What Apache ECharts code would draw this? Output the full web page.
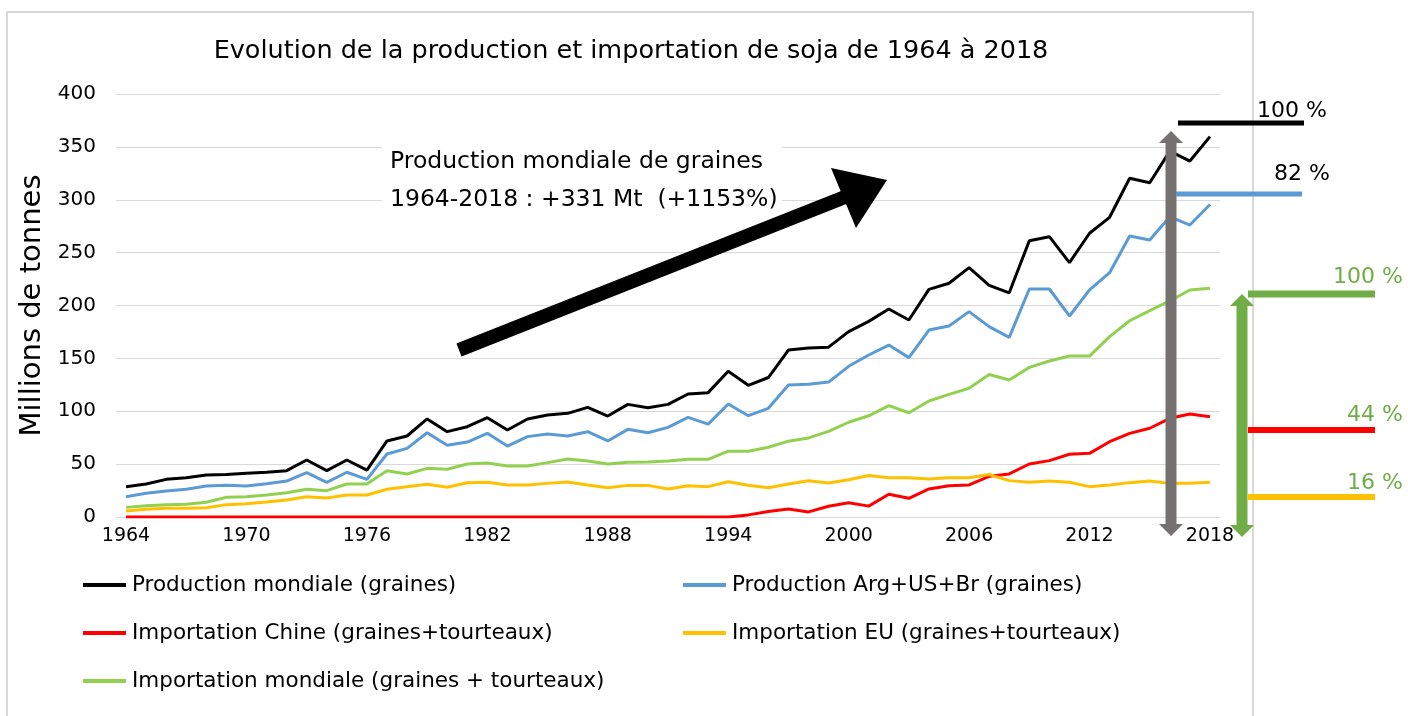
<!DOCTYPE html>
<html>
<head>
<meta charset="utf-8">
<script src="https://cdn.jsdelivr.net/npm/echarts@6/dist/echarts.min.js"></script>
<style>
  html, body { margin: 0; padding: 0; background: #fff; }
  #chart { width: 1408px; height: 716px; }
</style>
</head>
<body>
<div id="chart"></div>
<script>
// years 1964 -> 2018
const years = []
for (let y = 1964; y <= 2018; y++) years.push(String(y))

const prodMondiale = [28.7, 31.2, 35.6, 37.2, 39.7, 40.3, 41.3, 42.3, 43.8, 53.9, 43.8, 53.9, 44.4, 71.9, 76.6,
  92.7, 80.7, 85.4, 93.9, 82.3, 92.7, 96.5, 98, 103.7, 95.5, 106.5, 103.4, 106.5, 116.3, 117.6,
  137.8, 124.5, 131.9, 157.9, 159.8, 160.6, 175.3, 185, 196.7, 186.3, 215.3, 221, 235.8, 219, 212,
  261.3, 265.1, 240.5, 268.3, 283.4, 320.3, 316.1, 346, 336.6, 359.7]

const prodArgUsBr = [19.2, 22.4, 24.6, 26.2, 29.3, 30, 29.3, 31.5, 34, 41.9, 32.8, 42.3, 35.6, 59.6, 64.9,
  79.7, 67.8, 70.9, 79.1, 67.1, 76, 78.5, 76.6, 80.7, 71.9, 82.9, 79.7, 84.8, 94.2, 87.8,
  106.9, 95.8, 102.8, 124.8, 125.6, 127.6, 142.5, 153.2, 162.6, 150.7, 176.8, 180.6, 194.2, 180, 169.9,
  215.6, 215.6, 190.1, 214.7, 231, 265.7, 261.9, 284, 276.1, 295.5]

const importChine = [0, 0, 0, 0, 0, 0, 0, 0, 0, 0, 0, 0, 0, 0, 0,
  0, 0, 0, 0, 0, 0, 0, 0, 0, 0, 0, 0, 0, 0, 0,
  0, 2, 5.2, 7.5, 4.8, 10.2, 13.5, 10.3, 21.5, 17.7, 26.5, 29.6, 30.3, 38.5, 40.7,
  50.1, 53.3, 59.3, 60.2, 71.2, 79.1, 83.9, 93.3, 97.4, 94.9]

const importEU = [5.7, 7.3, 8.2, 8.2, 8.8, 11.7, 12.6, 14.2, 16.1, 19.2, 18, 20.8, 20.8, 26.2, 28.7,
  30.9, 28.1, 32.4, 32.8, 30.3, 30.3, 31.8, 33.1, 30.3, 27.7, 29.9, 29.9, 26.5, 29.6, 28.7,
  33.4, 30, 27.7, 31.2, 34.2, 32.2, 35.3, 39.2, 37.2, 37.2, 35.9, 37.2, 37.2, 40.2, 34.4,
  32.8, 34, 32.8, 28.7, 30.3, 32.5, 34, 31.8, 31.8, 32.8]

const importMondiale = [9.1, 10.7, 11.7, 12, 13.9, 18.6, 19.2, 20.8, 23, 26.2, 24.9, 31.2, 31.2, 43.8, 40.7,
  46, 45.1, 50.1, 51, 48.2, 48.2, 51.4, 54.8, 53, 50.1, 51.7, 52, 53, 54.5, 54.5,
  62.2, 62.2, 66, 71.7, 74.8, 81, 89.6, 95.7, 105.3, 98.6, 109.7, 116, 121.7, 134.7, 129.6,
  141.5, 147.5, 152.2, 152.2, 170.5, 185.6, 195.1, 204.3, 214.7, 216.2]

const FONT = 'DejaVu Sans'
const GREEN = '#70AD47'

function line(name, data, color) {
  return {
    name: name,
    type: 'line',
    data: data,
    symbol: 'none',
    lineStyle: { width: 3, color: color },
    itemStyle: { color: color },
    animation: false
  }
}

function hline(x1, x2, y, w, color) {
  return { type: 'line', z: 10, shape: { x1: x1, y1: y, x2: x2, y2: y }, style: { stroke: color, lineWidth: w } }
}

function doubleArrow(x, top, bottom, color) {
  return [
    { type: 'line', z: 10, shape: { x1: x, y1: top + 10, x2: x, y2: bottom - 10 }, style: { stroke: color, lineWidth: 11 } },
    { type: 'polygon', z: 10, shape: { points: [[x, top], [x - 12, top + 12], [x + 12, top + 12]] }, style: { fill: color } },
    { type: 'polygon', z: 10, shape: { points: [[x, bottom], [x - 12, bottom - 12], [x + 12, bottom - 12]] }, style: { fill: color } }
  ]
}

function label(text, x, y, color) {
  return {
    type: 'text', z: 10, x: x, y: y,
    style: { text: text, fill: color, font: '22px "' + FONT + '"', textVerticalAlign: 'middle' }
  }
}

let chart = echarts.init(document.getElementById('chart'))

let legendBase = {
  orient: 'vertical', itemGap: 24, padding: 0,
  icon: 'rect', itemWidth: 43, itemHeight: 4,
  textStyle: { fontFamily: FONT, fontSize: 21.5, color: '#000', lineHeight: 24, padding: [0, 0, 0, 1] }
}

chart.setOption({
  backgroundColor: '#fff',
  textStyle: { fontFamily: FONT },
  title: {
    text: 'Evolution de la production et importation de soja de 1964 à 2018',
    left: 626,
    top: 33,
    textAlign: 'center',
    textStyle: { fontFamily: FONT, fontSize: 25.5, fontWeight: 'normal', color: '#000' }
  },
  grid: { left: 116, right: 188, top: 94, bottom: 199 },
  legend: [
    Object.assign({}, legendBase, {
      left: 83, top: 573,
      data: ['Production mondiale (graines)', 'Importation Chine (graines+tourteaux)', 'Importation mondiale (graines + tourteaux)']
    }),
    Object.assign({}, legendBase, {
      left: 683, top: 573,
      data: ['Production Arg+US+Br (graines)', 'Importation EU (graines+tourteaux)']
    })
  ],
  xAxis: {
    type: 'category',
    data: years,
    boundaryGap: true,
    axisTick: { show: false },
    axisLine: { show: true, lineStyle: { color: '#D9D9D9' } },
    axisLabel: { interval: 5, fontSize: 19, color: '#000', margin: 10 }
  },
  yAxis: {
    type: 'value',
    min: 0,
    max: 400,
    interval: 50,
    name: 'Millions de tonnes',
    nameLocation: 'middle',
    nameGap: 60,
    nameTextStyle: { fontSize: 29, color: '#000' },
    axisLabel: { fontSize: 20, color: '#000', margin: 20 },
    splitLine: { lineStyle: { color: '#D9D9D9' } }
  },
  series: [
    line('Production mondiale (graines)', prodMondiale, '#000000'),
    line('Production Arg+US+Br (graines)', prodArgUsBr, '#5B9BD5'),
    line('Importation Chine (graines+tourteaux)', importChine, '#FF0000'),
    line('Importation EU (graines+tourteaux)', importEU, '#FFC000'),
    line('Importation mondiale (graines + tourteaux)', importMondiale, '#92D050')
  ],
  graphic: [
    // chart frame
    { type: 'rect', z: -10, shape: { x: 7, y: 12, width: 1246, height: 720 }, style: { fill: null, stroke: '#D9D9D9', lineWidth: 2 } },
    // text box hiding the gridlines
    { type: 'rect', z: 8, shape: { x: 382, y: 140, width: 400, height: 80 }, style: { fill: '#fff' } },
    {
      type: 'text', z: 9, x: 390, y: 162,
      style: { text: 'Production mondiale de graines', fill: '#000', font: '23.5px "' + FONT + '"', textVerticalAlign: 'middle' }
    },
    {
      type: 'text', z: 9, x: 390, y: 200,
      style: { text: '1964-2018 : +331 Mt  (+1153%)', fill: '#000', font: '23.5px "' + FONT + '"', textVerticalAlign: 'middle' }
    },
    // big arrow
    { type: 'line', z: 10, shape: { x1: 459, y1: 350, x2: 845, y2: 197 }, style: { stroke: '#000', lineWidth: 14 } },
    { type: 'polygon', z: 10, shape: { points: [[887, 180], [831, 168], [856, 228]] }, style: { fill: '#000' } },
    ...doubleArrow(1171, 131, 536, '#767171'),
    ...doubleArrow(1242, 294, 537, GREEN),
    hline(1178, 1304, 123, 5, '#000'),
    hline(1176, 1302, 194, 5, '#5B9BD5'),
    hline(1248, 1375, 294, 7, GREEN),
    hline(1248, 1375, 430, 6, '#FF0000'),
    hline(1248, 1375, 497, 6, '#FFC000'),
    label('100 %', 1257, 111, '#000'),
    label('82 %', 1274, 174, '#000'),
    label('100 %', 1333, 277, GREEN),
    label('44 %', 1347, 415, GREEN),
    label('16 %', 1347, 483, GREEN)
  ]
})
</script>
</body>
</html>
